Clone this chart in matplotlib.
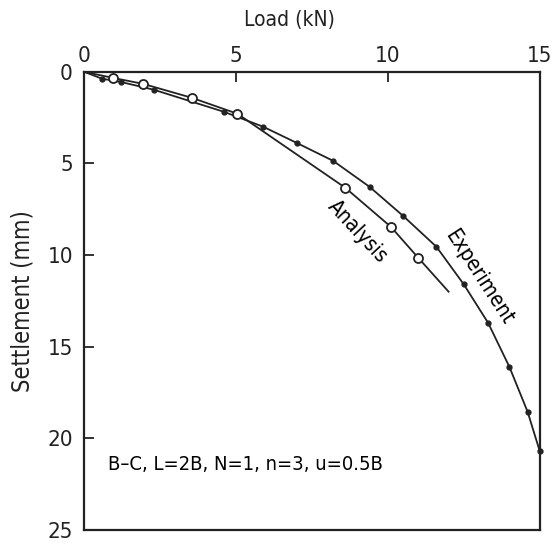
import matplotlib
matplotlib.use('Agg')
import matplotlib.pyplot as plt

plt.rcParams['font.family'] = ['DejaVu Sans']
plt.rcParams['font.stretch'] = 'condensed'

# load (kN) vs settlement (mm)
exp_load = [0.0, 0.6, 1.2, 2.3, 4.6, 5.9, 7.0, 8.2, 9.4, 10.5, 11.6, 12.5, 13.3, 14.0, 14.6, 15.0]
exp_settle = [0.0, 0.38, 0.55, 0.98, 2.18, 3.0, 3.88, 4.86, 6.28, 7.86, 9.55, 11.6, 13.7, 16.1, 18.55, 20.7]

ana_load = [0.0, 0.95, 1.95, 3.55, 5.05, 8.6, 10.1, 11.0, 12.0]
ana_settle = [0.0, 0.33, 0.66, 1.42, 2.29, 6.33, 8.46, 10.15, 12.0]
ana_marked = [1, 2, 3, 4, 5, 6, 7]   # indices with open circles

xticks = [0, 5, 10, 15]
yticks = [0, 5, 10, 15, 20, 25]
note = 'B\u2013C, L=2B, N=1, n=3, u=0.5B'

fig = plt.figure(figsize=(5.53, 5.44), dpi=100)
ax = fig.add_axes([0.152, 0.026, 0.824, 0.842])

ax.plot(exp_load, exp_settle, color='#222222', lw=1.3, zorder=2)
ax.plot(exp_load[1:], exp_settle[1:], 'o', color='#222222', ms=3.5, zorder=3, clip_on=False)

ax.plot(ana_load, ana_settle, color='#222222', lw=1.3, zorder=2)
ax.plot([ana_load[i] for i in ana_marked], [ana_settle[i] for i in ana_marked], 'o',
        mfc='white', mec='#222222', mew=1.3, ms=6.5, zorder=4)

ax.text(9.0, 8.7, 'Analysis', rotation=-47, ha='center', va='center', fontsize=15)
ax.text(13.0, 11.2, 'Experiment', rotation=-57, ha='center', va='center', fontsize=15)
ax.text(0.8, 21.45, note, ha='left', va='center', fontsize=14.5)

ax.set_xlim(0, 15)
ax.set_ylim(25, 0)
ax.set_xticks(xticks)
ax.set_yticks(yticks)
ax.xaxis.tick_top()
ax.xaxis.set_label_position('top')
ax.tick_params(direction='in', length=7, width=1.3, labelsize=16, colors='#222222')
ax.tick_params(axis='x', pad=4)
ax.tick_params(axis='y', pad=8)
for s in ax.spines.values():
    s.set_linewidth(1.6)
    s.set_color('#222222')

ax.set_xlabel('Load (kN)', fontsize=15, labelpad=14, color='#222222')
ax.xaxis.set_label_coords(0.45, 1.10)
ax.set_ylabel('Settlement (mm)', fontsize=17, labelpad=9, color='#222222')

fig.savefig('out.png', dpi=100)
